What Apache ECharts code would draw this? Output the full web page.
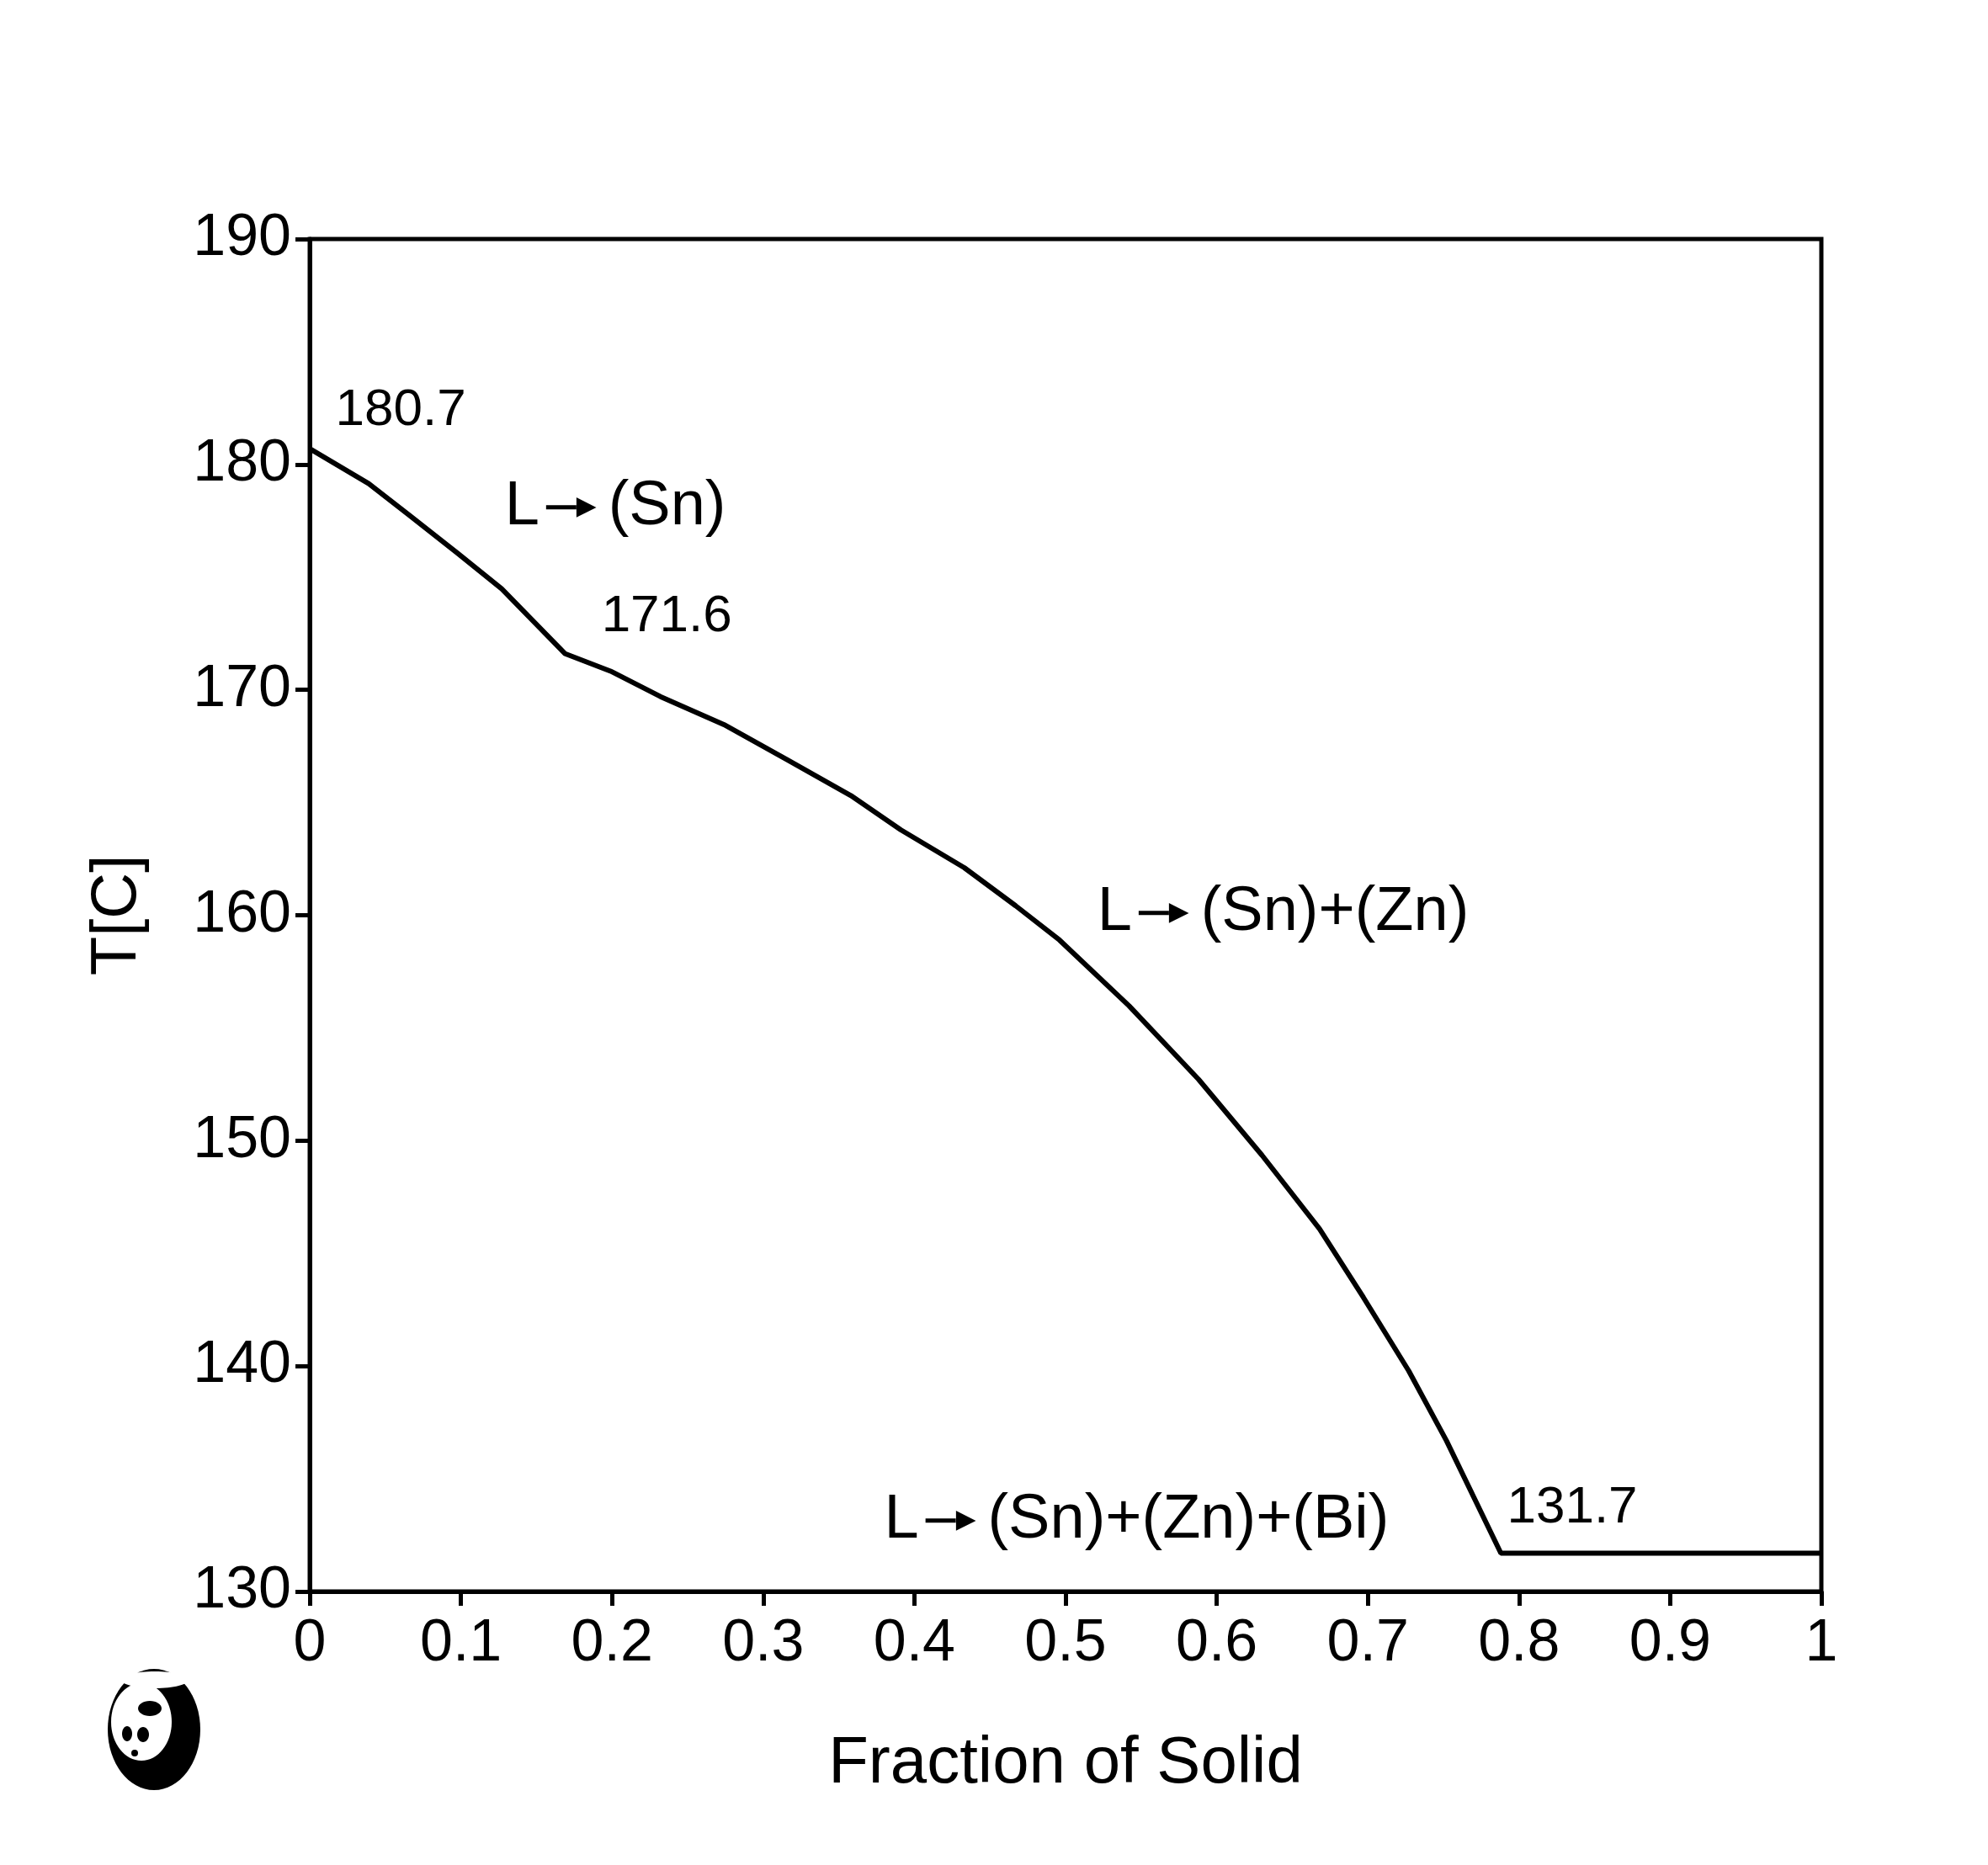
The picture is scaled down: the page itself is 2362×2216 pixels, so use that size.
<!DOCTYPE html>
<html>
<head>
<meta charset="utf-8">
<script src="https://cdn.jsdelivr.net/npm/echarts@6/dist/echarts.min.js"></script>
<style>
html,body{margin:0;padding:0;background:#fff;}
#chart{width:2362px;height:2216px;}
</style>
</head>
<body>
<div id="chart"></div>
<script>
// Fraction of solid (x) and temperature (y)
const fractionSolid = [0, 0.039, 0.066, 0.098, 0.127, 0.169, 0.199, 0.232, 0.274, 0.316, 0.358, 0.391, 0.433, 0.467, 0.496, 0.542, 0.588, 0.630, 0.668, 0.697, 0.727, 0.752, 0.788, 1.0];
const temperature   = [180.7, 179.15, 177.74, 176.05, 174.48, 171.6, 170.83, 169.70, 168.46, 166.89, 165.31, 163.79, 162.11, 160.42, 158.90, 155.98, 152.72, 149.35, 146.09, 143.05, 139.79, 136.69, 131.7, 131.7];

const xTicks = ['0', '0.1', '0.2', '0.3', '0.4', '0.5', '0.6', '0.7', '0.8', '0.9', '1'];
const yTicks = [130, 140, 150, 160, 170, 180, 190];

// Annotations: [x, T, text]
const valueNotes = [
  [0.017, 182.4, '180.7'],
  [0.193, 173.25, '171.6'],
  [0.792, 133.7, '131.7']
];
const phaseNotes = [
  [0.129, 178.1, 'L', '(Sn)'],
  [0.521, 160.1, 'L', '(Sn)+(Zn)'],
  [0.380, 133.15, 'L', '(Sn)+(Zn)+(Bi)']
];

const FONT = '"Liberation Sans", Arial, sans-serif';
const chart = echarts.init(document.getElementById('chart'), null, {renderer: 'canvas'});

const option = {
  backgroundColor: '#ffffff',
  animation: false,
  grid: {
    left: 368, right: 198, top: 284, bottom: 325,
    show: true, borderColor: '#000', borderWidth: 5, backgroundColor: 'transparent'
  },
  xAxis: {
    type: 'value', min: 0, max: 1, interval: 0.1,
    name: 'Fraction of Solid', nameLocation: 'middle', nameGap: 166,
    nameTextStyle: {fontFamily: FONT, fontSize: 78, color: '#000'},
    axisLine: {show: true, lineStyle: {color: '#000', width: 5}},
    axisTick: {show: true, inside: false, length: 17, lineStyle: {color: '#000', width: 5}},
    axisLabel: {
      fontFamily: FONT, fontSize: 70, color: '#000', margin: 28,
      formatter: function (v) { return xTicks[Math.round(v * 10)]; }
    },
    splitLine: {show: false}
  },
  yAxis: {
    type: 'value', min: yTicks[0], max: yTicks[yTicks.length - 1], interval: 10,
    name: 'T[C]', nameLocation: 'middle', nameGap: 190, nameRotate: 90,
    nameTextStyle: {fontFamily: FONT, fontSize: 76, color: '#000'},
    axisLine: {show: true, lineStyle: {color: '#000', width: 5}},
    axisTick: {show: true, inside: false, length: 17, lineStyle: {color: '#000', width: 5}},
    axisLabel: {fontFamily: FONT, fontSize: 70, color: '#000', margin: 22},
    splitLine: {show: false}
  },
  series: [
    {
      type: 'line',
      data: fractionSolid.map((x, i) => [x, temperature[i]]),
      symbol: 'none',
      lineStyle: {color: '#000', width: 6},
      z: 3
    },
    {
      type: 'scatter',
      data: valueNotes,
      symbolSize: 0,
      silent: true,
      itemStyle: {opacity: 1},
      label: {
        show: true, position: 'right', distance: 0, opacity: 1,
        formatter: p => p.data[2],
        fontFamily: FONT, fontSize: 62, color: '#000'
      }
    },
    {
      type: 'scatter',
      data: phaseNotes,
      symbolSize: 0,
      silent: true,
      itemStyle: {opacity: 1},
      label: {
        show: true, position: 'right', distance: 0, opacity: 1,
        formatter: p => p.data[2] + '{g1| }{shaft| }{head|\u25B6}{g2| }' + p.data[3],
        fontFamily: FONT, fontSize: 74, color: '#000',
        rich: {
          g1: {width: 8, fontSize: 74},
          shaft: {width: 36, height: 5, backgroundColor: '#000', fontSize: 5, lineHeight: 5},
          head: {fontFamily: '"DejaVu Sans", sans-serif', fontSize: 31, color: '#000'},
          g2: {width: 14, fontSize: 74}
        }
      }
    }
  ],
  graphic: [
    {
      type: 'group', left: 128, top: 1983,
      children: [
        {type: 'ellipse', shape: {cx: 57, cy: 73, rx: 55, ry: 72}, style: {fill: '#000'}},
        {type: 'ellipse', shape: {cx: 58, cy: 14, rx: 40, ry: 10}, style: {fill: '#fff'}},
        {type: 'ellipse', shape: {cx: 42, cy: 64, rx: 36, ry: 46}, style: {fill: '#fff'}},
        {type: 'ellipse', shape: {cx: 52, cy: 48, rx: 14, ry: 9}, style: {fill: '#000'}},
        {type: 'ellipse', shape: {cx: 25, cy: 78, rx: 6, ry: 9}, style: {fill: '#000'}},
        {type: 'ellipse', shape: {cx: 44, cy: 79, rx: 7, ry: 9}, style: {fill: '#000'}},
        {type: 'circle', shape: {cx: 34, cy: 101, r: 4}, style: {fill: '#000'}}
      ]
    }
  ]
};
chart.setOption(option);
</script>
</body>
</html>
